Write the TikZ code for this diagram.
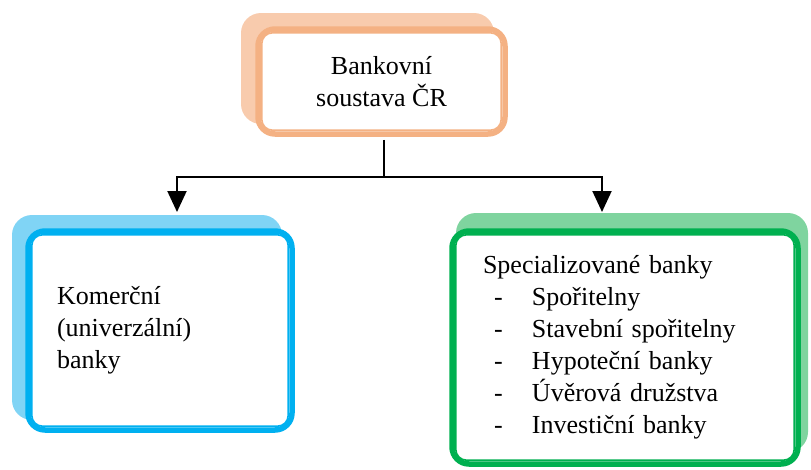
\documentclass[tikz,border=0pt]{standalone}
\usepackage{fontspec}
\setmainfont{Liberation Serif}
\newfontfamily\boxfont{Liberation Serif}
\usepackage{xcolor}
\usetikzlibrary{positioning,arrows.meta,calc}

\definecolor{orLine}{HTML}{F4B183}
\definecolor{orShade}{HTML}{F8CBAD}
\definecolor{blLine}{HTML}{00B0F0}
\definecolor{blShade}{HTML}{80D4F5}
\definecolor{grLine}{HTML}{00B050}
\definecolor{grShade}{HTML}{7FD49F}

\newcommand{\pol}[1]{\makebox[49pt][l]{\hspace*{11pt}-}#1}

\begin{document}
\begin{tikzpicture}[x=1pt, y=-1pt,
  shade/.style={rounded corners=20pt, inner sep=0pt},
  box/.style={draw, line width=5.5pt, fill=white, rounded corners=17pt, inner sep=0pt,
              font=\boxfont\fontsize{26}{32}\selectfont},
  ring/.style={line width=1.6pt, rounded corners=11pt},
  arr/.style={-{Triangle[length=21pt,width=19pt]}, line width=2pt}
]
  \useasboundingbox (0,0) rectangle (811,469);

  % shadows
  \node[shade, fill=orShade, minimum width=253pt, minimum height=111pt] (topsh) at (367.5,68.5) {};
  \node[shade, fill=blShade, minimum width=270pt, minimum height=205pt] (leftsh) at (147,317.5) {};
  \node[shade, fill=grShade, minimum width=352pt, minimum height=239pt] (rightsh) at (632,332.5) {};

  % boxes
  \node[box, draw=orLine, minimum width=247pt, minimum height=105pt, align=center] (top) at (381.5,81.5)
    {Bankovní\\soustava ČR};
  \draw[ring, orLine] ($(top.north west)+(6.5,6.5)$) rectangle ($(top.south east)+(-6.5,-6.5)$);

  \node[box, draw=blLine, minimum width=264pt, minimum height=199pt, inner xsep=29pt,
        text width=206pt, align=left] (komer) at (160,330.5)
    {Komerční\\(univerzální)\\banky};
  \draw[ring, blLine] ($(komer.north west)+(6.5,6.5)$) rectangle ($(komer.south east)+(-6.5,-6.5)$);

  \node[box, draw=grLine, minimum width=346pt, minimum height=233pt, inner xsep=31pt,
        text width=284pt, align=left] (spec) at (625,347.5)
    {Specializované banky\\\pol{Spořitelny}\\\pol{Stavební spořitelny}\\\pol{Hypoteční banky}\\\pol{Úvěrová družstva}\\\pol{Investiční banky}};
  \draw[ring, grLine] ($(spec.north west)+(6.5,6.5)$) rectangle ($(spec.south east)+(-6.5,-6.5)$);

  % connectors
  \coordinate (hub) at ($(top.south)+(2,40)$);
  \coordinate (ltip) at (177,212);
  \coordinate (rtip) at (602,212);
  \draw[line width=2pt, shorten <=3pt] (top.south -| hub) -- (hub);
  \draw[arr] (hub) -| (ltip);
  \draw[arr] (hub) -| (rtip);
\end{tikzpicture}
\end{document}
